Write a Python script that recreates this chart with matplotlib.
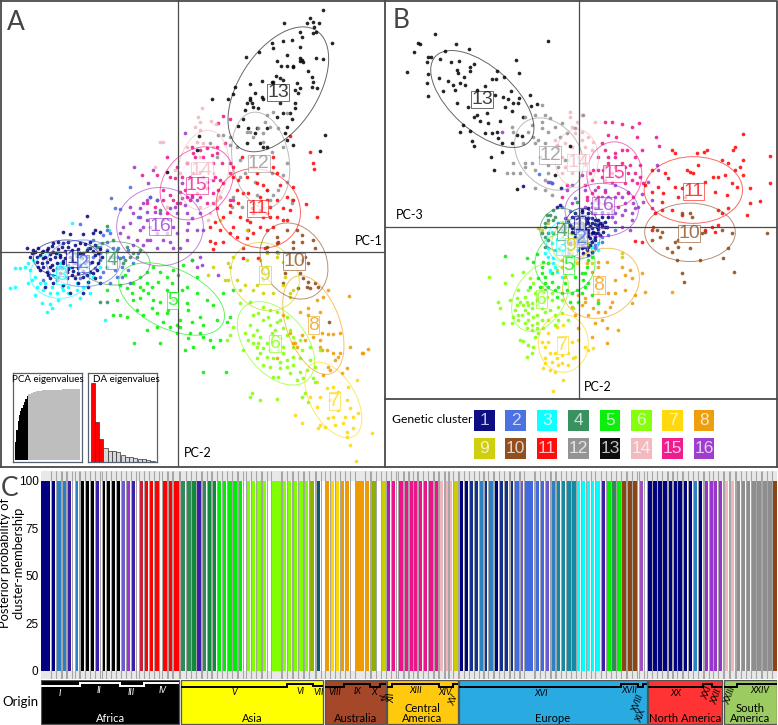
import matplotlib
matplotlib.use("Agg")
import matplotlib.pyplot as plt
from matplotlib.patches import Ellipse, Rectangle

plt.rcParams["font.family"] = ["Lato", "DejaVu Sans"]

W, H = 778, 725

cluster_colors = {1: "#000080", 2: "#4169E1", 3: "#00FFFF", 4: "#2E8B57", 5: "#00EE00", 6: "#7FFF00",
                  7: "#FFD700", 8: "#EE9A00", 9: "#CDCD00", 10: "#8B4513", 11: "#FF0000", 12: "#8E8E8E",
                  13: "#000000", 14: "#F2B5BC", 15: "#EE1289", 16: "#9A32CD"}

# panel A scores (PC-1, PC-2)
a1 = [(260,648),(190,697),(210,703),(250,703),(285,690),(280,700),(300,695),(160,730),(175,725),(190,730),(205,725),(225,735),
      (240,728),(255,732),(270,725),(285,735),(100,750),(115,745),(130,752),(145,745),(160,755),(175,748),(195,752),(215,750),
      (235,748),(260,750),(280,752),(300,748),(80,745),(120,765),(135,770),(150,762),(165,772),(180,765),(195,775),(210,770),
      (230,768),(245,775),(260,770),(285,765),(305,770),(320,755),(110,785),(125,790),(140,785),(155,795),(170,788),(190,790),
      (205,795),(225,790),(240,795),(255,788),(275,785),(295,790),(120,810),(140,815),(160,810),(180,820),(200,815),(220,812),
      (235,820),(250,812),(270,815),(290,810),(150,835),(170,840),(200,835),(225,835),(250,830),(265,845),(285,835),(135,860),
      (210,880),(250,880),(265,860),(300,850),(168,760),(188,782),(215,780),(150,778),(130,775),(240,760),(262,782),(205,808),
      (95,760),(110,770),(140,750),(155,738),(185,742),(205,740),(225,760),(250,760),(270,745),(295,760),(115,800),(130,800),
      (150,800),(170,805),(185,805),(215,800),(235,805),(260,825),(280,820),(145,825),(175,830),(215,825),(235,850),(190,855),
      (160,850),(180,770),(200,760),(125,755),(105,755),(90,770)]
a2 = [(332,595),(345,625),(360,628),(415,650),(390,562),(450,590),(470,600),(240,672),(320,690),(330,700),(310,705),(300,740),
      (320,750),(340,745),(280,770),(300,780),(320,800),(340,790),(370,770),(365,800),(385,810),(350,830),(390,850),(330,850),
      (300,830),(260,800),(235,760),(265,745),(240,835),(180,800),(130,840),(220,790),(415,760),(280,720),(300,760),(330,770),
      (350,770),(355,745),(270,790),(285,805),(310,815),(345,810),(365,830),(400,790),(385,750),(320,725)]
a3 = [(217,670),(327,690),(45,805),(60,805),(30,865),(45,860),(85,850),(105,885),(125,910),(150,912),(155,925),(140,935),
      (175,900),(210,915),(240,895),(270,880),(315,960),(100,780),(90,810),(105,830),(120,850),(130,870),(150,880),(170,880),
      (190,870),(205,860),(230,850),(250,860),(175,760),(180,790),(160,825),(170,815),(190,830),(210,800),(280,830),(300,800),
      (75,800),(85,790),(95,840),(110,860),(135,850),(155,860),(185,860),(205,880),(230,870)]
a4 = [(320,677),(480,630),(290,740),(305,730),(340,720),(350,750),(360,775),(375,780),(390,770),(300,905),(320,905),(380,740),
      (400,760),(410,770),(320,800),(340,770),(370,790),(420,750)]
a5 = [(360,855),(380,865),(400,850),(420,830),(440,815),(460,800),(480,815),(500,830),(520,810),(535,825),(550,795),(575,780),
      (590,830),(400,900),(420,895),(445,880),(460,900),(480,905),(520,900),(560,910),(565,930),(540,960),(530,975),(490,965),
      (470,940),(430,945),(410,930),(380,950),(360,945),(340,945),(320,870),(600,1000),(610,1010),(565,1015),(555,1050),(580,1040),
      (510,980),(540,980),(600,950),(640,915),(670,880),(650,960),(700,870),(690,950),(403,1030),(480,1028),(610,1115),(678,1115),
      (660,1020),(630,1020),(640,1040),(680,965),(455,860),(500,870),(545,870),(430,870),(375,825),(440,850),(475,845),(515,850),
      (560,860),(590,880),(620,900),(505,930),(455,925),(395,880),(420,860),(575,965),(610,975),(500,940),(570,1000),(530,1000),
      (470,980),(440,990),(350,900)]
a6 = [(720,910),(750,905),(790,920),(810,930),(830,935),(860,950),(840,960),(750,975),(770,990),(790,960),(810,975),(830,965),
      (870,990),(745,1020),(760,1030),(780,1010),(800,1030),(820,1025),(860,1005),(850,1040),(880,1040),(900,1020),(930,1040),
      (960,1050),(780,1060),(800,1070),(820,1075),(840,1085),(860,1080),(880,1070),(900,1075),(930,1080),(810,1100),(840,1105),
      (870,1120),(900,1115),(910,1135),(890,1140),(750,1190),(755,1180),(780,1200),(830,1197),(905,1190),(915,1180),(925,1205),
      (945,1145),(940,1135),(690,1005),(700,980),(730,1050),(735,1000),(680,1020),(790,1045),(835,1050),(770,1075),(850,1060),
      (760,945),(775,940),(805,950),(825,990),(850,985),(770,1040),(815,1000),(840,1015),(880,1010),(760,1005),(905,1050),(880,1095),
      (860,1100),(835,1130),(820,1130),(790,1095),(775,1030),(810,1050),(920,1110),(945,1100)]
a7 = [(1000,1160),(1015,1175),(1045,1160),(1070,1140),(950,1145),(980,1165),(960,1190),(930,1190),(950,1220),(990,1200),(1040,1200),
      (1050,1225),(1075,1240),(1015,1230),(1000,1250),(985,1255),(960,1275),(975,1280),(1005,1275),(1030,1270),(1040,1295),(1060,1285),
      (1115,1300),(1050,1335),(1067,1382),(1035,1250),(1060,1250),(885,1245),(905,1270),(1040,1310),(955,1285)]
a8 = [(1047,888),(985,870),(970,890),(950,900),(925,925),(900,935),(960,935),(850,945),(925,945),(985,1003),(1000,1003),(1020,1000),
      (965,1000),(940,1010),(960,1020),(905,1005),(915,1020),(885,1030),(890,1040),(960,1040),(1000,1060),(1020,1060),(1015,1070),
      (980,1050),(965,1050),(1005,1080),(985,1100),(990,1110),(1040,1105),(1050,1040),(1090,1060),(1105,1047),(1085,1060),(1025,1120),
      (830,1075),(880,1030),(970,1125),(870,1000)]
a9 = [(685,790),(690,800),(700,770),(740,780),(780,780),(800,760),(830,770),(835,760),(850,785),(855,830),(790,880),(790,840),
      (735,855),(770,855),(820,880),(850,855),(870,880),(880,870),(870,890),(685,840),(710,840),(720,870),(760,870),(675,840),
      (800,800),(740,690),(660,660),(625,825),(640,800)]
a10 = [(830,710),(905,705),(890,690),(860,690),(880,725),(905,725),(830,730),(800,740),(800,755),(830,755),(880,745),(940,720),
       (945,745),(855,820),(900,820),(910,835),(925,845),(945,850),(930,865),(915,770),(925,790),(905,780),(920,860),(955,860),
       (988,967),(895,865),(850,850)]
a11 = [(930,457),(940,490),(943,507),(917,612),(950,650),(870,408),(820,470),(820,500),(725,470),(700,500),(740,530),(770,550),
       (790,555),(800,570),(730,580),(745,580),(710,570),(690,615),(780,590),(810,620),(840,555),(860,590),(880,560),(850,625),
       (870,630),(740,660),(750,665),(790,650),(780,680),(720,650),(690,635),(670,650),(645,665),(630,680),(800,690),(810,650),
       (860,660),(630,723),(645,730),(640,747),(670,727),(730,775),(775,775),(795,745),(730,745),(710,710),(760,700),(835,725),
       (755,625),(800,640),(715,610),(830,600),(700,680),(740,715),(700,530),(715,540),(830,520),(770,520),(880,600),(850,660),
       (820,680),(760,640),(745,690),(690,700),(660,690),(800,600),(780,630),(830,650)]
a12 = [(800,345),(820,335),(860,340),(740,395),(750,395),(760,410),(775,385),(790,400),(795,365),(810,380),(835,385),(790,425),
       (690,410),(670,405),(655,405),(690,435),(710,440),(720,480),(735,520),(765,545),(770,585),(800,570),(820,585),(850,525),
       (860,490),(850,440),(815,455),(815,520),(700,590),(760,610),(810,600),(835,570),(875,600),(875,610),(725,620),(695,620),
       (630,430),(650,470),(860,545),(720,530)]
a13 = [(970,30),(930,55),(920,68),(940,65),(957,68),(853,68),(942,80),(948,95),(938,100),(900,95),(995,130),(815,130),(820,143),
       (778,155),(737,170),(905,110),(877,120),(850,122),(900,140),(860,165),(900,175),(910,185),(832,183),(948,175),(968,178),
       (880,198),(860,198),(842,198),(925,212),(828,228),(815,245),(850,240),(892,248),(935,230),(940,245),(935,262),(950,263),
       (750,253),(706,262),(698,283),(685,297),(635,298),(785,243),(765,280),(750,300),(755,310),(787,290),(788,298),(885,270),
       (895,280),(735,330),(740,310),(775,323),(885,310),(885,325),(830,350),(870,340),(850,340),(875,358),(715,378),(730,358),
       (770,385),(800,385),(855,400),(860,420),(740,430),(780,430),(800,440),(880,435),(976,406),(960,453),(598,408),(590,450),(500,515),
       (905,180),(900,182),(880,200),(820,245),(840,235),(750,295),(758,320),(900,265),(840,310),(860,380),(765,400),(790,440),(745,385)]
a14 = [(605,325),(595,350),(632,362),(648,372),(600,365),(585,382),(600,390),(490,425),(480,425),(465,500),(590,425),(560,440),
       (610,430),(600,470),(640,440),(525,510),(560,490),(540,520),(640,520),(625,660),(660,590),(650,600),(600,620),(500,620),(630,640)]
a15 = [(655,370),(670,348),(690,358),(650,440),(620,445),(575,440),(580,460),(610,470),(500,470),(425,525),(470,525),(510,530),
       (530,500),(545,530),(560,490),(640,490),(665,490),(690,490),(690,520),(660,540),(640,540),(620,545),(600,590),(575,585),
       (560,590),(620,610),(640,610),(660,590),(690,600),(650,625),(510,585),(470,600),(490,570),(440,610),(465,620),(500,640),
       (530,610),(645,530),(620,565),(590,580),(525,535),(600,515),(570,530),(585,470),(635,465),(540,575),(555,570),(570,600),
       (610,560),(520,600),(580,520),(610,530),(655,570),(670,550),(490,600),(540,610),(600,450),(650,460),(675,430),(700,600),(640,580)]
a16 = [(402,500),(460,510),(555,400),(445,548),(450,590),(390,620),(430,610),(420,625),(440,635),(465,635),(510,625),(530,640),
       (545,550),(560,640),(575,655),(600,640),(610,690),(590,690),(565,670),(510,660),(520,680),(480,640),(370,680),(390,670),
       (420,690),(450,680),(440,720),(430,735),(470,745),(510,725),(560,720),(540,745),(520,745),(400,735),(600,770),(575,780),
       (590,800),(655,825),(605,795),(575,590),(590,600),(545,595),(555,615),(400,640),(420,650),(440,660),(490,660),(500,700),
       (470,700),(430,680),(410,720),(450,720),(490,720),(530,700),(560,690),(385,710),(360,700),(440,600),(525,620)]

# panel B scores (PC-2, PC-3)
b1 = [(515,620),(525,615),(570,640),(590,635),(610,640),(630,640),(650,650),(560,650),(580,655),(600,655),(620,655),(640,660),
      (660,665),(550,665),(570,670),(590,668),(610,670),(630,672),(650,675),(665,680),(540,680),(560,685),(580,682),(600,685),
      (620,685),(640,688),(655,695),(570,700),(590,700),(610,700),(630,700),(645,705),(575,715),(595,715),(615,715),(630,720),
      (580,730),(600,730),(615,735),(590,745),(605,750),(620,755),(595,760),(610,765),(555,730),(415,557),(528,565),(600,690),
      (610,690),(585,692),(595,678),(605,662),(575,690),(625,695),(590,722),(605,708),(585,708),(615,678),(635,680),(600,740),
      (570,655),(590,650),(610,655),(630,660),(645,670),(580,670),(600,672),(620,668),(640,675),(560,695),(580,695),(600,695),
      (620,700),(640,700),(570,710),(590,708),(610,708),(630,710),(580,722),(600,722),(620,725),(590,735),(610,740),(555,675),
      (660,680),(590,630),(610,625),(630,625),(650,635),(670,650)]
b2 = [(463,522),(495,545),(500,550),(570,595),(530,620),(555,632),(540,655),(530,690),(520,670),(630,745),(650,725),(670,705),
      (650,670),(680,640),(690,690),(650,710),(630,735),(640,610),(620,610),(575,750),(550,760)]
b3 = [(515,720),(500,730),(490,745),(510,750),(530,760),(490,770),(505,790),(495,810),(515,815),(530,830),(505,775),(480,760),
      (525,740),(545,745),(640,730),(640,750),(620,740),(500,695),(495,815),(510,800)]
b4 = [(485,645),(495,645),(510,650),(480,670),(490,660),(505,660),(480,680),(470,700),(490,700),(480,740),(490,720),(505,630),
      (480,710),(515,680),(505,700),(575,605)]
b5 = [(360,768),(427,775),(455,762),(445,785),(475,785),(470,820),(460,835),(480,850),(465,860),(500,845),(520,860),(540,850),
      (570,830),(575,870),(590,880),(610,850),(605,800),(620,770),(610,780),(595,840),(580,905),(620,885),(640,910),(560,880),
      (480,870),(515,890),(555,905),(510,870),(455,900),(490,860),(435,860),(600,820),(470,800),(490,790),(500,820),(545,870),
      (530,880),(480,830),(600,860),(590,820)]
b6 = [(312,832),(360,850),(380,825),(340,907),(345,923),(355,970),(380,970),(375,900),(395,895),(400,870),(420,890),(415,915),
      (390,930),(420,930),(410,945),(430,960),(440,975),(400,960),(425,985),(440,990),(455,970),(470,960),(490,960),(520,960),
      (430,870),(450,880),(470,880),(485,890),(440,910),(470,925),(500,900),(520,920),(480,935),(430,940),(455,945),(415,815),
      (435,835),(445,850),(405,1020),(415,1022),(430,1035),(445,1040),(425,1070),(440,1060),(450,1010),(460,1000),(510,975),
      (530,940),(550,960),(565,925),(395,915),(405,905),(425,905),(440,925),(460,915),(400,945),(430,915),(445,950),(475,900),
      (495,930),(510,945),(455,985),(475,985),(420,970),(385,950),(470,860),(500,880),(530,900)]
b7 = [(490,1000),(515,980),(535,975),(490,1025),(480,1040),(470,1025),(495,1060),(510,1060),(530,1065),(480,1075),(500,1085),
      (515,1075),(550,1060),(565,1075),(530,1090),(550,1095),(520,1095),(475,1105),(495,1110),(510,1115),(535,1140),(505,1172),
      (560,1025),(580,1020),(610,1050),(625,1045),(600,1040),(570,1070),(480,1090)]
b8 = [(640,785),(665,785),(710,800),(735,810),(720,825),(690,840),(640,830),(640,800),(605,790),(620,815),(740,835),(770,820),
      (720,870),(780,875),(750,885),(690,880),(670,880),(680,905),(640,875),(600,905),(590,915),(640,900),(625,925),(600,895),
      (580,885),(740,908),(675,920),(660,935),(640,935),(610,945),(570,945),(560,920),(665,985),(630,970),(650,960),(700,990),
      (667,1030),(860,875),(620,1010),(580,985)]
b9 = [(460,685),(470,690),(520,750),(555,750),(490,670),(530,670),(530,710),(570,720),(550,720),(560,700),(545,690),(550,660),
      (565,680),(530,780),(560,760),(540,830),(710,770),(710,760),(620,790),(530,800),(515,810),(575,790)]
b10 = [(800,720),(830,695),(825,710),(880,740),(845,745),(860,755),(870,725),(875,780),(915,745),(945,780),(1015,775),(1030,745),
       (950,700),(960,695),(1010,690),(890,640),(915,640),(1145,698),(1047,815),(890,818),(898,845),(1040,700),(805,680),(815,690),
       (880,720),(920,650)]
b11 = [(1075,402),(1050,440),(1155,467),(1045,450),(1155,550),(1095,565),(1075,480),(1075,525),(965,450),(958,455),(935,458),
       (860,450),(870,458),(1010,480),(1030,490),(940,495),(905,510),(915,515),(925,520),(1065,500),(1050,510),(1040,550),(1055,560),
       (985,530),(1000,530),(1020,525),(840,520),(800,510),(850,535),(820,560),(835,580),(870,560),(1025,585),(990,575),(960,545),
       (890,565),(880,590),(780,555),(800,575),(900,590),(860,630),(890,645),(810,640),(830,630),(1010,640),(1000,630),(1030,625),
       (1085,645),(1125,602),(1095,610),(1000,675),(980,680),(960,690),(990,695),(800,690),(830,605),(770,725),(750,722)]
b12 = [(450,345),(470,315),(480,345),(495,355),(470,365),(440,375),(420,350),(380,380),(385,395),(430,395),(445,410),(460,420),
       (470,385),(490,395),(510,380),(530,370),(525,410),(545,400),(480,430),(450,430),(415,430),(420,490),(385,488),(365,518),
       (385,518),(405,520),(440,490),(450,510),(490,495),(490,520),(520,500),(480,540),(450,565),(480,570),(500,585),(520,440),
       (595,345),(570,385),(540,480),(420,500),(465,470)]
b13 = [(150,102),(98,130),(105,132),(88,155),(138,170),(125,185),(130,172),(180,152),(212,132),(253,147),(490,122),(65,215),
       (130,223),(125,248),(130,287),(163,235),(165,178),(198,185),(222,182),(268,193),(255,200),(255,212),(215,210),(220,220),
       (238,230),(190,243),(205,255),(225,250),(240,255),(210,270),(175,272),(335,212),(403,220),(393,180),(358,232),(320,237),
       (332,237),(275,270),(330,285),(300,258),(378,272),(403,295),(355,290),(370,298),(385,308),(400,310),(435,285),(438,318),
       (455,312),(215,310),(250,322),(275,345),(268,350),(285,362),(305,340),(360,320),(380,332),(345,362),(415,352),(235,375),
       (225,397),(255,392),(262,422),(268,437),(308,370),(300,398),(320,400),(340,415),(350,430),(395,405),(410,408),(380,430),
       (318,470),(350,455),(328,510),(395,567),(555,438),(510,525),(335,395)]
b14 = [(555,335),(555,350),(590,345),(575,365),(560,380),(510,420),(515,435),(540,430),(570,400),(590,395),(610,410),(625,425),
       (560,440),(530,470),(540,500),(600,440),(620,450),(600,490),(580,470),(560,520),(610,510),(530,520),(550,480),(590,420),(630,365)]
b15 = [(660,365),(680,365),(710,372),(742,380),(762,368),(693,410),(755,410),(812,410),(823,437),(670,405),(650,430),(660,450),
       (690,460),(710,450),(725,450),(750,470),(770,450),(765,495),(640,470),(670,490),(710,490),(730,520),(750,520),(765,530),
       (650,530),(620,540),(600,555),(640,560),(680,545),(700,530),(720,550),(755,550),(775,550),(620,580),(660,575),(700,580),
       (730,580),(625,510),(640,510),(690,470),(545,555),(530,590),(615,520),(640,590),(660,540),(680,520),(700,510),(720,500),
       (735,495),(670,470),(655,510),(690,500),(740,540),(605,600),(630,600),(605,590),(745,590),(660,500)]
b16 = [(352,395),(490,545),(500,550),(545,570),(560,555),(590,525),(600,570),(630,570),(660,570),(690,555),(650,590),(670,590),
       (690,590),(710,590),(730,575),(770,583),(790,545),(815,495),(820,510),(800,600),(560,610),(600,620),(640,625),(660,610),
       (680,630),(700,620),(720,610),(745,610),(750,625),(680,650),(690,665),(710,645),(740,660),(735,690),(650,680),(620,640),
       (710,680),(740,640),(775,605),(640,600),(800,625),(620,620),(650,640),(670,640),(690,640),(720,630),(760,620)]

scores_a = {1: a1, 2: a2, 3: a3, 4: a4, 5: a5, 6: a6, 7: a7, 8: a8, 9: a9, 10: a10, 11: a11, 12: a12, 13: a13, 14: a14, 15: a15, 16: a16}
scores_b = {1: b1, 2: b2, 3: b3, 4: b4, 5: b5, 6: b6, 7: b7, 8: b8, 9: b9, 10: b10, 11: b11, 12: b12, 13: b13, 14: b14, 15: b15, 16: b16}

# inertia ellipses: centre x, centre y, major, minor, angle
ellipses_a = {1: (200,775,200,110,0), 2: (250,790,220,140,0), 3: (180,825,180,140,0), 4: (345,790,210,130,0),
              5: (515,897,340,180,25), 6: (828,1030,290,180,50), 7: (1000,1200,250,135,60), 8: (940,975,310,160,70),
              9: (795,830,220,190,45), 10: (882,783,240,190,60), 11: (775,625,260,230,30), 12: (782,480,290,170,80),
              13: (835,268,420,235,-57), 14: (610,510,240,150,-80), 15: (590,550,245,190,-45), 16: (480,680,260,235,0)}
ellipses_b = {1: (590,680,100,110,0), 2: (590,710,110,130,0), 3: (535,725,100,120,0), 4: (530,690,130,130,0),
              5: (540,790,180,180,0), 6: (465,892,220,150,-60), 7: (535,1030,173,150,90), 8: (648,850,240,200,-30),
              9: (555,730,110,120,0), 10: (915,697,272,175,0), 11: (925,570,295,200,0), 12: (492,462,240,180,50),
              13: (292,297,380,190,42), 14: (575,475,175,130,90), 15: (688,523,195,165,90), 16: (650,630,220,160,0)}

labels_a = {1: (215,775), 2: (250,790), 3: (185,825), 4: (335,782), 5: (517,902), 6: (825,1030), 7: (1003,1203), 8: (940,975),
            9: (795,825), 10: (882,785), 11: (772,625), 12: (776,490), 13: (835,278), 14: (605,512), 15: (590,557), 16: (480,680)}
labels_b = {1: (583,675), 2: (590,715), 3: (530,740), 4: (532,695), 5: (550,795), 6: (470,897), 7: (533,1035), 8: (642,855),
            9: (558,740), 10: (913,700), 11: (925,575), 12: (495,465), 13: (292,298), 14: (580,487), 15: (688,520), 16: (655,617)}

pca_eigen = [.25,.42,.55,.63,.69,.74,.78,.82,.86,.90,.925,.935,.945,.952,.958,.963,.967,.971,.974,.977,.979,.981,.983,.985,.986,
             .987,.988,.989,.99,.991,.992,.992,.993,.993,.994,.994,.995,.995,.996,.996,.997,.997,.998,.998,.999,.999,1,1,1,1]
da_eigen = [235,118,68,43,33,32,31,20,16,14,12,10,9,6,4]

# accessions left to right: first sample, last sample, membership (cluster id or mixed colour)
mix = {"sb": "#2A80C4", "teal": "#128AA4", "ind": "#3A1FA8", "slate": "#6A5AD0", "crim": "#C8203C", "dg": "#0F8A3C",
       "olv": "#8FB000", "dteal": "#0F5C6C", "orch": "#A050C0", "nb": "#12308F", "gb": "#1A9A8A", "mag": "#B020B0"}
pops_1 = [(122,150,1),(155,165,1),(170,182,"sb"),(186,197,"sb"),(201,213,"ind"),(225,235,"sb"),(240,252,13),(255,267,13),
          (270,282,13),(285,297,"ind"),(306,316,13),(320,330,13),(333,345,13),(348,360,13),(364,375,"slate"),(380,391,16),
          (395,405,"ind"),(418,429,"crim"),(433,445,11),(449,460,11),(464,476,11),(488,500,11),(504,515,11),(520,536,11),
          (542,556,4),(558,572,4),(575,587,"dg"),(590,602,"ind"),(606,618,4),(621,632,"dg"),(637,648,"dg"),(652,664,5),
          (667,679,5),(683,695,5),(698,710,5),(714,726,5),(738,750,6),(753,766,6),(770,782,6),(786,798,6),(814,842,6),
          (846,858,6),(862,874,6),(880,892,6),(896,908,6),(912,924,6),(928,942,"olv"),(948,960,"dteal"),(975,987,8),
          (990,1003,7),(1005,1017,7),(1020,1032,8),(1035,1047,8),(1065,1092,8),(1095,1107,8),(1115,1127,"olv"),
          (1145,1157,9),(1160,1170,"mag")]
pops_2 = [(5,16,15),(26,38,15),(42,53,15),(57,68,15),(71,80,15),(84,96,15),(100,112,15),(116,128,15),(132,143,15),(148,160,14),
          (165,175,14),(175,187,14),(190,203,9),(207,220,1),(223,235,1),(238,250,"nb"),(253,265,"nb"),(268,278,"sb"),
          (282,292,"nb"),(296,308,"sb"),(312,324,1),(327,340,"nb"),(343,355,"nb"),(360,370,"nb"),(374,386,2),(390,400,"slate"),
          (404,430,2),(435,447,2),(451,463,2),(466,478,"slate"),(483,495,"sb"),(497,510,"teal"),(514,526,"teal"),(530,542,"teal"),
          (545,557,"teal"),(560,570,3),(573,585,3),(590,600,3),(603,613,3),(617,630,3),(633,645,"ind"),(650,662,5),(665,677,4),
          (680,692,5),(695,707,10),(711,725,10),(727,740,10),(748,760,"orch"),(773,785,1),(787,800,1),(803,815,1),(818,830,1),
          (834,845,1),(849,860,1),(863,875,1),(880,892,1),(895,907,1),(910,922,"sb"),(925,937,1),(942,954,16),(958,968,16),
          (970,982,16),(985,997,16),(1003,1015,14),(1020,1032,14),(1038,1050,12),(1053,1065,12),(1070,1080,12),(1085,1097,12),
          (1100,1112,12),(1117,1130,12),(1132,1145,12),(1148,1160,10)]
posterior_ticks = [0, 25, 50, 75, 100]

# origin groups
regions = ["Africa", "Asia", "Australia", "Central\nAmerica", "Europe", "North America", "South\nAmerica"]
region_left = [122, 543, 975, 1160, 1378, 1945, 2171]
region_right = [538, 970, 1157, 1373, 1940, 2167, 2330]
region_color = ["#000000", "#FFFF00", "#A5482A", "#FFC90E", "#29ABE2", "#FF3333", "#9CCB62"]
region_text = ["white", "black", "black", "black", "black", "black", "black"]
groups = ["I","II","III","IV","V","VI","VII","VIII","IX","X","XI","XII","XIII","XIV","XV","XVI","XVII","XVIII","XIX","XX","XXI","XXII","XXIII","XXIV"]
group_left = [122,240,361,432,543,862,940,975,1033,1110,1140,1160,1176,1317,1358,1378,1862,1915,1928,1945,2108,2136,2171,2210]
group_right = [240,361,432,538,862,940,970,1033,1110,1140,1157,1176,1317,1358,1373,1862,1915,1928,1940,2108,2136,2167,2210,2330]
group_level = [137,130,138,130,140,131,138,140,131,140,132,140,131,140,131,140,131,140,131,140,131,140,140,131]
group_text_x = [180,298,394,489,702,900,955,1004,1073,1123,1145,1175,1248,1335,1360,1623,1888,1915,1925,2027,2123,2150,2190,2278]
group_text_y = [160,151,158,151,158,153,158,158,153,158,172,175,151,158,180,160,152,190,228,160,160,170,168,152]
group_rot = [0,0,0,0,0,0,0,0,0,0,-70,90,0,0,70,0,0,70,70,0,70,70,70,0]


def px_axes(fig, x0, y0, x1, y1):
    ax = fig.add_axes([x0 / W, 1 - y1 / H, (x1 - x0) / W, (y1 - y0) / H])
    ax.patch.set_alpha(0)
    return ax


def draw_scores(ax, scores, ellipses, labels):
    for c in sorted(scores, reverse=True):
        xs = [p[0] for p in scores[c]]
        ys = [p[1] for p in scores[c]]
        ax.scatter(xs, ys, s=7, color=cluster_colors[c], alpha=0.85, linewidths=0)
    for c, (x, y, w, h, ang) in ellipses.items():
        ax.add_patch(Ellipse((x, y), w, h, angle=ang, fill=False, ec=cluster_colors[c], lw=0.7, alpha=0.6))
    for c, (x, y) in labels.items():
        ax.text(x, y, str(c), color=cluster_colors[c], alpha=0.75, fontsize=14, family="Liberation Sans", ha="center", va="center",
                bbox=dict(fc=(1, 1, 1, 0.7), ec=cluster_colors[c], lw=0.4, pad=0.2))
    ax.axis("off")


fig = plt.figure(figsize=(W / 100, H / 100), dpi=100)

# frame lines
frame = px_axes(fig, 0, 0, W, H)
frame.set_xlim(0, W)
frame.set_ylim(H, 0)
frame.axis("off")
line_col = "#4A4A4A"
frame.plot([0.5, 777, 777], [0.5, 0.5, 467], color=line_col, lw=1.3)
frame.plot([0.5, 0.5], [0.5, 467], color=line_col, lw=1.3)
frame.plot([0, 778], [467, 467], color=line_col, lw=1.3)
frame.plot([385, 385], [0, 467], color=line_col, lw=1.3)
frame.plot([385, 778], [399, 399], color=line_col, lw=1.3)

# panel A
ax_a = px_axes(fig, 0, 0, 385, 467)
ax_a.set_xlim(0, 1155)
ax_a.set_ylim(1401, 0)
ax_a.plot([535, 535], [0, 1401], color=line_col, lw=0.9)
ax_a.plot([0, 1155], [755, 755], color=line_col, lw=0.9)
draw_scores(ax_a, scores_a, ellipses_a, labels_a)
ax_a.text(1105, 723, "PC-1", fontsize=9, ha="center", va="center")
ax_a.text(593, 1360, "PC-2", fontsize=9, ha="center", va="center")
ax_a.text(47, 67, "A", fontsize=19, color="#444444", ha="center", va="center")

# panel B
ax_b = px_axes(fig, 385, 0, 778, 400)
ax_b.set_xlim(0, 1179)
ax_b.set_ylim(1200, 0)
ax_b.plot([583, 583], [0, 1197], color=line_col, lw=0.9)
ax_b.plot([0, 1179], [682, 682], color=line_col, lw=0.9)
draw_scores(ax_b, scores_b, ellipses_b, labels_b)
ax_b.text(73, 644, "PC-3", fontsize=9, ha="center", va="center")
ax_b.text(638, 1162, "PC-2", fontsize=9, ha="center", va="center")
ax_b.text(48, 60, "B", fontsize=19, color="#444444", ha="center", va="center")

# eigenvalue insets
ax_pca = px_axes(fig, 13.3, 373, 81.7, 462)
ax_pca.patch.set_alpha(1)
ax_pca.bar(range(len(pca_eigen)), pca_eigen, width=1.02, align="edge", lw=0,
           color=["black" if i < 10 else "#BEBEBE" for i in range(len(pca_eigen))])
ax_pca.set_xlim(-1.28, 51.3)
ax_pca.set_ylim(-0.024, 1.226)
ax_pca.set_xticks([])
ax_pca.set_yticks([])
ax_pca.text(0.5, 0.93, "PCA eigenvalues", transform=ax_pca.transAxes, fontsize=7, ha="center", va="center")

ax_da = px_axes(fig, 88.3, 373, 157.3, 462)
ax_da.patch.set_alpha(1)
ax_da.bar(range(len(da_eigen)), da_eigen, width=0.95, align="edge", edgecolor="#333333", lw=0.5,
          color=["red" if i < 3 else "#D9D9D9" for i in range(len(da_eigen))])
ax_da.set_xlim(-0.55, 15.6)
ax_da.set_ylim(0, 265)
ax_da.set_xticks([])
ax_da.set_yticks([])
ax_da.text(0.55, 0.93, "DA eigenvalues", transform=ax_da.transAxes, fontsize=7, ha="center", va="center")
for a in (ax_pca, ax_da):
    for s in a.spines.values():
        s.set_color("#556070")
        s.set_linewidth(0.9)

# cluster legend
frame.text(392, 419, "Genetic cluster", fontsize=8.7, va="center", ha="left")
for i, c in enumerate(sorted(cluster_colors)):
    col = i % 8
    row = i // 8
    x = 474 + col * 31.4
    y = 410 + row * 28
    frame.add_patch(Rectangle((x, y), 20.6, 20.6, fc=cluster_colors[c], ec="none", alpha=0.95))
    frame.text(x + 10.3, y + 10.5, str(c), color="white", alpha=0.75, fontsize=12.5, family="Liberation Sans", ha="center", va="center")

# panel C membership bars
pops = pops_1 + [(l + 1170, r + 1170, c) for l, r, c in pops_2]
ax_c = px_axes(fig, 40.7, 471, 776.7, 679)
ax_c.patch.set_alpha(1)
ax_c.set_xlim(122, 2330)
ax_c.set_ylim(-4.4, 105.1)
ax_c.add_patch(Rectangle((122, 100), 2208, 5.1, fc="#E8E8E8", ec="none"))
ax_c.add_patch(Rectangle((122, -4.4), 2208, 4.4, fc="#E8E8E8", ec="none"))
for l, r, c in pops:
    ax_c.bar(l, 100, width=r - l, align="edge", lw=0, color=mix.get(c, cluster_colors.get(c)))
    ax_c.vlines([l - 1.5, r + 1.5], -4.4, 105.1, color="#A6A6A6", lw=0.75)
ax_c.set_yticks(posterior_ticks)
ax_c.set_yticklabels([str(t) for t in posterior_ticks], family="Liberation Sans", fontsize=8.5)
ax_c.set_xticks([])
ax_c.tick_params(length=0, pad=1.5)
for s in ax_c.spines.values():
    s.set_visible(False)
frame.text(12, 563, "Posterior probability of\ncluster-membership", rotation=90, fontsize=9.3, ha="center", va="center", linespacing=1.15)
frame.text(10, 488, "C", fontsize=19, color="#444444", ha="center", va="center")
frame.text(20, 702, "Origin", fontsize=9.5, ha="center", va="center")

# origin strip
ax_o = px_axes(fig, 40.7, 680, 776.7, 724.5)
ax_o.set_xlim(122, 2330)
ax_o.set_ylim(253.5, 120)
ax_o.axis("off")
for name, l, r, fc, tc in zip(regions, region_left, region_right, region_color, region_text):
    ax_o.add_patch(Rectangle((l, 120), r - l, 132, fc=fc, ec="#555555", lw=0.9))
    two_lines = "\n" in name
    ax_o.text((l + r) / 2, 221 if two_lines else 235, name, color=tc, fontsize=8, ha="center", va="center", linespacing=0.9)
for i, g in enumerate(groups):
    lc = "white" if i < 4 else "black"
    ax_o.plot([group_left[i], group_right[i]], [group_level[i], group_level[i]], color=lc, lw=1.4, solid_capstyle="butt")
    if i + 1 < len(groups) and group_right[i] == group_left[i + 1]:
        ax_o.plot([group_right[i], group_right[i]], [group_level[i], group_level[i + 1]], color=lc, lw=1.4)
    ax_o.text(group_text_x[i], group_text_y[i], g, color="white" if i < 4 else "black", fontsize=6.5, style="italic",
              rotation=group_rot[i], ha="center", va="center")

fig.savefig("out.png", dpi=100)
